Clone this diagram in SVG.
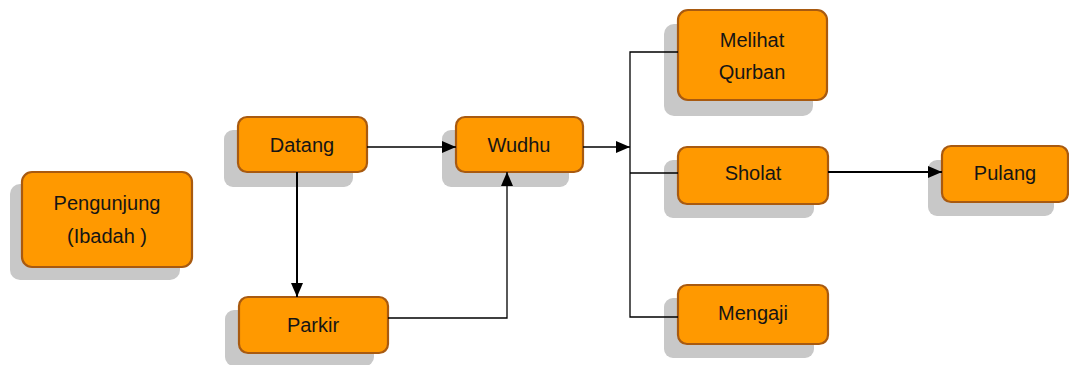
<svg xmlns="http://www.w3.org/2000/svg" width="1069" height="365" viewBox="0 0 1069 365">
<style>
.sh{fill:#c8c8c8}
.bx{fill:#ff9900;stroke:#a85a10;stroke-width:2.2}
.t{font-family:"Liberation Sans",Arial,sans-serif;font-size:20px;fill:#151515;text-anchor:middle}
.c{fill:none;stroke:#000;stroke-width:1.3}
.c2{fill:none;stroke:#000;stroke-width:2}
</style>
<defs>
<marker id="ah" viewBox="0 0 14 12" refX="14" refY="6" markerWidth="14" markerHeight="12" markerUnits="userSpaceOnUse" orient="auto">
<path d="M0,0 L14,6 L0,12 z" fill="#000"/>
</marker>
</defs>
<rect width="1069" height="365" fill="#fff"/>
<g id="pengunjung">
<rect class="sh" x="10" y="184" width="170" height="96" rx="10"/>
<rect class="bx" x="22" y="172" width="170" height="95" rx="10"/>
<text class="t" x="107" y="210">Pengunjung</text>
<text class="t" x="107" y="243">(Ibadah )</text>
</g>
<g id="datang">
<rect class="sh" x="224" y="130" width="129" height="57" rx="9"/>
<rect class="bx" x="238" y="117" width="129" height="55" rx="9"/>
<text class="t" x="302" y="152">Datang</text>
</g>
<g id="wudhu">
<rect class="sh" x="442" y="130" width="127" height="57" rx="9"/>
<rect class="bx" x="456" y="117" width="127" height="55" rx="9"/>
<text class="t" x="519" y="152">Wudhu</text>
</g>
<g id="parkir">
<rect class="sh" x="225" y="310" width="149" height="56" rx="9"/>
<rect class="bx" x="239" y="297" width="149" height="56" rx="9"/>
<text class="t" x="313" y="332">Parkir</text>
</g>
<g id="melihat">
<rect class="sh" x="664" y="24" width="149" height="92" rx="10"/>
<rect class="bx" x="678" y="10" width="149" height="90" rx="10"/>
<text class="t" x="752" y="47">Melihat</text>
<text class="t" x="752" y="79">Qurban</text>
</g>
<g id="sholat">
<rect class="sh" x="664" y="160" width="150" height="58" rx="9"/>
<rect class="bx" x="678" y="147" width="150" height="57" rx="9"/>
<text class="t" x="753" y="180">Sholat</text>
</g>
<g id="mengaji">
<rect class="sh" x="664" y="298" width="150" height="60" rx="9"/>
<rect class="bx" x="678" y="285" width="150" height="59" rx="9"/>
<text class="t" x="753" y="320">Mengaji</text>
</g>
<g id="pulang">
<rect class="sh" x="928" y="160" width="126" height="56" rx="9"/>
<rect class="bx" x="942" y="146" width="126" height="56" rx="9"/>
<text class="t" x="1005" y="180">Pulang</text>
</g>
<g id="connectors">
<path class="c" d="M367,147 H456" marker-end="url(#ah)"/>
<path class="c2" d="M297,172 V297" marker-end="url(#ah)"/>
<path class="c" d="M388,318 H507 V172" marker-end="url(#ah)"/>
<path class="c" d="M583,147 H630" marker-end="url(#ah)"/>
<path class="c" d="M678,52 H630 V317 H678"/>
<path class="c" d="M630,173 H678"/>
<path class="c2" d="M828,172 H942" marker-end="url(#ah)"/>
</g>
</svg>
